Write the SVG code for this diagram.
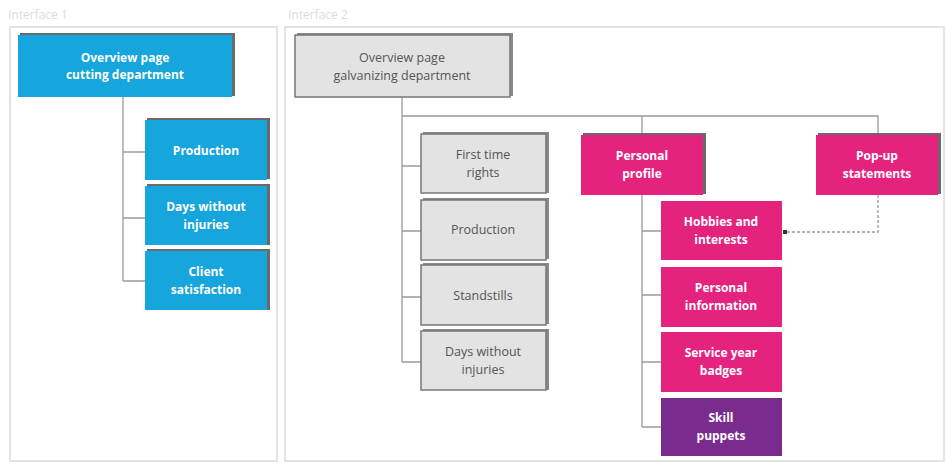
<svg xmlns="http://www.w3.org/2000/svg" width="947" height="464" viewBox="0 0 947 464">
<style>
.panel{fill:#fff;stroke:#e4e4e4;stroke-width:2}
.hdr{font-family:"Open Sans","Liberation Sans",sans-serif;font-size:12px;fill:#dcdcdc}
.blue{fill:#16a5dc}
.pink{fill:#e5237f}
.purple{fill:#7a2b8e}
.grey{fill:#e3e3e3;stroke:#777;stroke-width:1.5}
.sh{fill:#6a6a6a}
.shg{fill:#8a8a8a}
.t{font-family:"Open Sans","Liberation Sans",sans-serif;font-size:12px;font-weight:bold;fill:#fff;text-anchor:middle}
.tg{font-family:"Open Sans","Liberation Sans",sans-serif;font-size:12.5px;fill:#555;text-anchor:middle}
.ln{fill:none;stroke:#9a9a9a;stroke-width:1.3}
.dash{fill:none;stroke:#999;stroke-width:1.3;stroke-dasharray:3 2}
</style>
<rect width="947" height="464" fill="#fff"/>
<text class="hdr" x="8" y="19">Interface 1</text>
<text class="hdr" x="288" y="19">Interface 2</text>
<rect class="panel" x="10" y="27" width="267" height="434"/>
<rect class="panel" x="285" y="27" width="659" height="434"/>
<g id="connectors">
<path class="ln" d="M123 97V281M123 152H145M123 218H145M123 281H145"/>
<path class="ln" d="M402 97V362M402 166H421M402 231H421M402 297H421M402 362H421"/>
<path class="ln" d="M402 116H878V135M642 116V135"/>
<path class="ln" d="M642 195V427M642 231H661M642 295H661M642 362H661M642 427H661"/>
<path class="dash" d="M878 195V232H786"/>
<rect x="783" y="230" width="4" height="4" fill="#333"/>
</g>
<g id="n1"><rect class="sh" x="20" y="33" width="215" height="63"/><rect class="blue" x="18" y="35" width="214" height="62"/><text class="t" x="125" y="62">Overview page</text><text class="t" x="125" y="79">cutting department</text></g>
<g id="n2"><rect class="sh" x="147" y="118" width="123" height="61"/><rect class="blue" x="145" y="120" width="122" height="60"/><text class="t" x="206" y="155">Production</text></g>
<g id="n3"><rect class="sh" x="147" y="184" width="123" height="61"/><rect class="blue" x="145" y="186" width="122" height="59"/><text class="t" x="206" y="211">Days without</text><text class="t" x="206" y="229">injuries</text></g>
<g id="n4"><rect class="sh" x="147" y="249" width="123" height="61"/><rect class="blue" x="145" y="251" width="122" height="59"/><text class="t" x="206" y="276">Client</text><text class="t" x="206" y="294">satisfaction</text></g>
<g id="g1"><rect class="shg" x="297" y="33" width="216" height="63"/><rect class="grey" x="295" y="35" width="215" height="62"/><text class="tg" x="402" y="62">Overview page</text><text class="tg" x="402" y="80">galvanizing department</text></g>
<g id="g2"><rect class="shg" x="423" y="132" width="126" height="61"/><rect class="grey" x="421" y="134" width="125" height="59"/><text class="tg" x="483" y="159">First time</text><text class="tg" x="483" y="177">rights</text></g>
<g id="g3"><rect class="shg" x="423" y="198" width="126" height="61"/><rect class="grey" x="421" y="200" width="125" height="60"/><text class="tg" x="483" y="234">Production</text></g>
<g id="g4"><rect class="shg" x="423" y="263" width="126" height="61"/><rect class="grey" x="421" y="265" width="125" height="60"/><text class="tg" x="483" y="300">Standstills</text></g>
<g id="g5"><rect class="shg" x="423" y="329" width="126" height="61"/><rect class="grey" x="421" y="331" width="125" height="59"/><text class="tg" x="483" y="356">Days without</text><text class="tg" x="483" y="374">injuries</text></g>
<g id="p1"><rect class="sh" x="583" y="133" width="123" height="61"/><rect class="pink" x="581" y="135" width="122" height="60"/><text class="t" x="642" y="160">Personal</text><text class="t" x="642" y="178">profile</text></g>
<g id="p2"><rect class="sh" x="818" y="133" width="123" height="61"/><rect class="pink" x="816" y="135" width="122" height="60"/><text class="t" x="877" y="160">Pop-up</text><text class="t" x="877" y="178">statements</text></g>
<g id="p3"><rect class="pink" x="661" y="201" width="121" height="59"/><text class="t" x="721" y="226">Hobbies and</text><text class="t" x="721" y="244">interests</text></g>
<g id="p4"><rect class="pink" x="661" y="267" width="121" height="60"/><text class="t" x="721" y="292">Personal</text><text class="t" x="721" y="310">information</text></g>
<g id="p5"><rect class="pink" x="661" y="332" width="121" height="60"/><text class="t" x="721" y="357">Service year</text><text class="t" x="721" y="375">badges</text></g>
<g id="p6"><rect class="purple" x="661" y="398" width="121" height="58"/><text class="t" x="721" y="422">Skill</text><text class="t" x="721" y="440">puppets</text></g>
</svg>
